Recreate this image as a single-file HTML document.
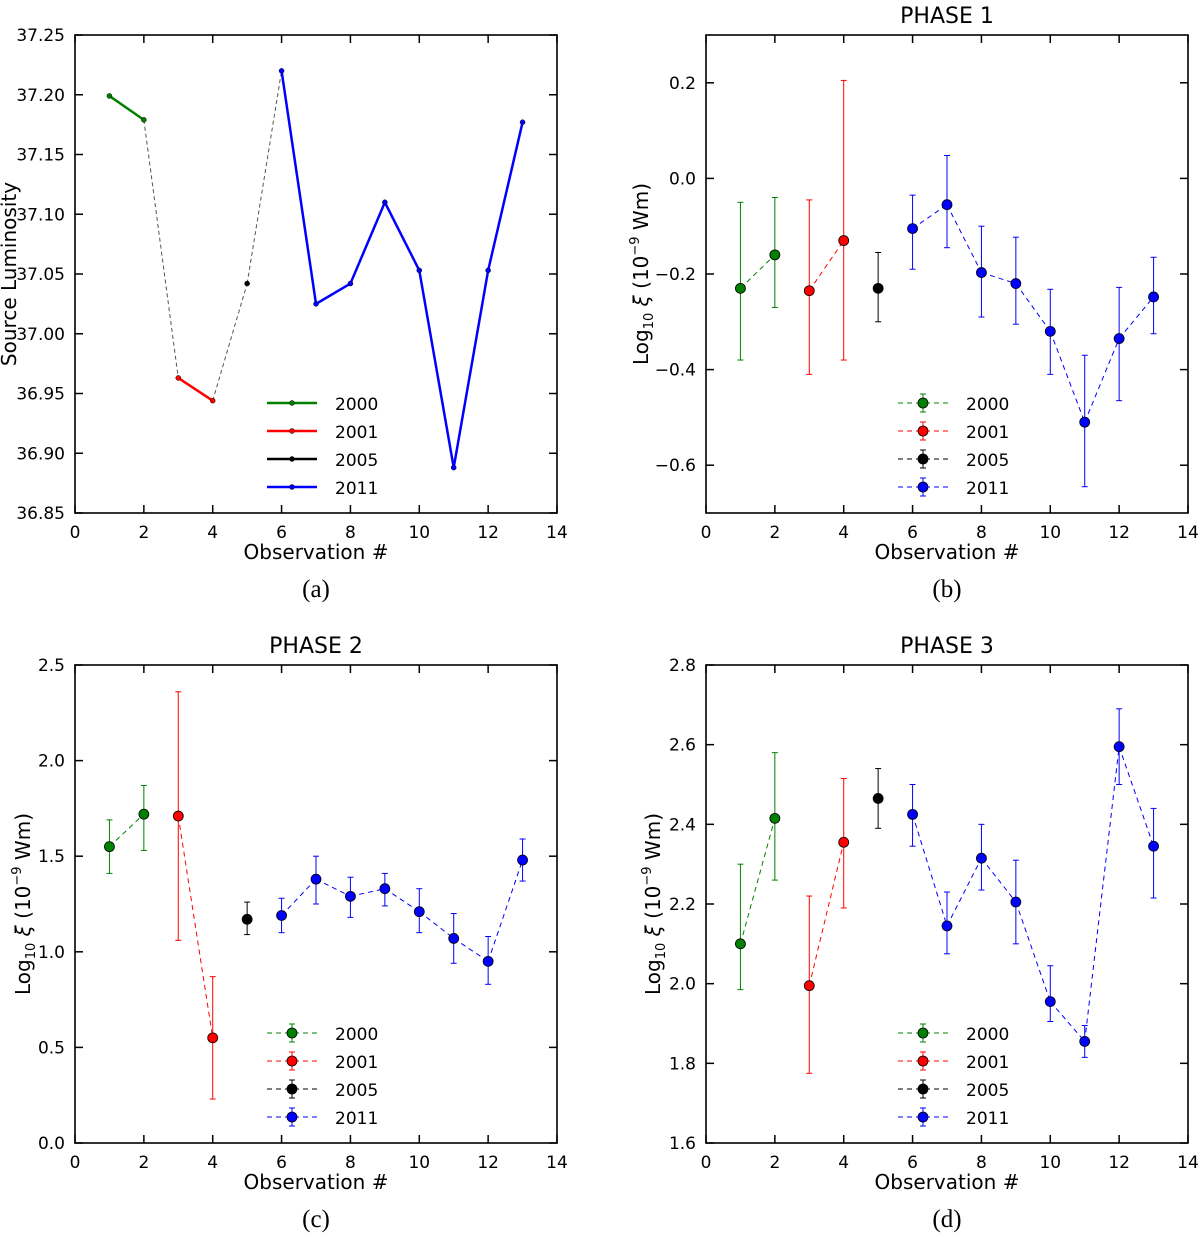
<!DOCTYPE html>
<html><head><meta charset="utf-8">
<style>
body{margin:0;background:#fff;width:1200px;height:1237px;overflow:hidden}
svg{display:block;font-family:"DejaVu Sans","Liberation Sans",sans-serif}
</style></head><body>
<svg id="fig" width="1200" height="1237" viewBox="0 0 1200 1237"></svg>
<script>
const obs=[1,2,3,4,5,6,7,8,9,10,11,12,13];
const groupOf=[0,0,1,1,2,3,3,3,3,3,3,3,3];
const years=["2000","2001","2005","2011"];
const colors=["#008000","#ff0000","#000000","#0000ff"];
const lumVals=[37.199,37.179,36.963,36.944,37.042,37.220,37.025,37.042,37.110,37.053,36.888,37.053,37.177];
const p1Vals=[-0.23,-0.16,-0.235,-0.13,-0.23,-0.105,-0.055,-0.197,-0.22,-0.32,-0.51,-0.335,-0.248];
const p1Lo=[-0.38,-0.27,-0.41,-0.38,-0.30,-0.19,-0.145,-0.29,-0.305,-0.41,-0.645,-0.465,-0.325];
const p1Hi=[-0.05,-0.04,-0.045,0.205,-0.155,-0.035,0.048,-0.10,-0.123,-0.232,-0.37,-0.228,-0.165];
const p2Vals=[1.55,1.72,1.71,0.55,1.17,1.19,1.38,1.29,1.33,1.21,1.07,0.95,1.48];
const p2Lo=[1.41,1.53,1.06,0.23,1.09,1.10,1.25,1.18,1.24,1.10,0.94,0.83,1.37];
const p2Hi=[1.69,1.87,2.36,0.87,1.26,1.28,1.50,1.39,1.41,1.33,1.20,1.08,1.59];
const p3Vals=[2.10,2.415,1.995,2.355,2.465,2.425,2.145,2.315,2.205,1.955,1.855,2.595,2.345];
const p3Lo=[1.985,2.26,1.775,2.19,2.39,2.345,2.075,2.235,2.10,1.905,1.815,2.50,2.215];
const p3Hi=[2.30,2.58,2.22,2.515,2.54,2.50,2.23,2.40,2.31,2.045,1.895,2.69,2.44];
const xTicks=[0,2,4,6,8,10,12,14];
const aTicks=["36.85","36.90","36.95","37.00","37.05","37.10","37.15","37.20","37.25"];
const bTicks=["-0.6","-0.4","-0.2","0.0","0.2"];
const cTicks=["0.0","0.5","1.0","1.5","2.0","2.5"];
const dTicks=["1.6","1.8","2.0","2.2","2.4","2.6","2.8"];

const NS="http://www.w3.org/2000/svg";
const svg=document.getElementById('fig');
function mk(tag,attrs,parent,text){const e=document.createElementNS(NS,tag);for(const k in attrs)e.setAttribute(k,attrs[k]);if(text!==undefined)e.textContent=text;(parent||svg).appendChild(e);return e;}

function panel(o){
  const g=mk('g',{});
  
  
  const L=o.x0,R=o.x0+482,T=o.y0,B=o.y0+478;
  const sx=v=>L+(v-0)/14*(R-L);
  const sy=v=>B-(v-o.ymin)/(o.ymax-o.ymin)*(B-T);
  // ticks & labels
  xTicks.forEach(t=>{
    const x=sx(t);
    mk('line',{x1:x,x2:x,y1:B,y2:B-8,stroke:'#000','stroke-width':1.5},g);
    mk('line',{x1:x,x2:x,y1:T,y2:T+8,stroke:'#000','stroke-width':1.5},g);
    const tl=mk('text',{x:x,y:B+25,'text-anchor':'middle','font-size':17},g,String(t));
    
    
  });
  o.ticks.forEach(s=>{
    const y=sy(parseFloat(s));
    mk('line',{x1:L,x2:L+8,y1:y,y2:y,stroke:'#000','stroke-width':1.5},g);
    mk('line',{x1:R,x2:R-8,y1:y,y2:y,stroke:'#000','stroke-width':1.5},g);
    const tl=mk('text',{x:L-10,y:y+6,'text-anchor':'end','font-size':17},g,s.replace('-','\u2212'));
    
    
  });
  // series
  const vals=o.vals;
  if(!o.err){
    // gray connectors
    for(let i=0;i<vals.length-1;i++){
      const sameG=groupOf[i]===groupOf[i+1];
      const ln=mk('line',{x1:sx(obs[i]),y1:sy(vals[i]),x2:sx(obs[i+1]),y2:sy(vals[i+1]),stroke:sameG?colors[groupOf[i]]:'#555','stroke-width':sameG?2.5:1,'stroke-dasharray':sameG?'':'4,3'},g);
      
      
    }
    vals.forEach((v,i)=>{
      const c=mk('circle',{cx:sx(obs[i]),cy:sy(v),r:2.5,fill:colors[groupOf[i]],stroke:'#000','stroke-width':0.5},g);
      
      
    });
  } else {
    for(let i=0;i<vals.length-1;i++){
      if(groupOf[i]!==groupOf[i+1])continue;
      const ln=mk('line',{x1:sx(obs[i]),y1:sy(vals[i]),x2:sx(obs[i+1]),y2:sy(vals[i+1]),stroke:colors[groupOf[i]],'stroke-width':1,'stroke-dasharray':'5,4'},g);
      
      
    }
    vals.forEach((v,i)=>{
      const x=sx(obs[i]),col=colors[groupOf[i]];
      const eb=mk('g',{},g);
      
      
      mk('line',{x1:x,x2:x,y1:sy(o.lo[i]),y2:sy(o.hi[i]),stroke:col,'stroke-width':1},eb);
      mk('line',{x1:x-3,x2:x+3,y1:sy(o.lo[i]),y2:sy(o.lo[i]),stroke:col,'stroke-width':1},eb);
      mk('line',{x1:x-3,x2:x+3,y1:sy(o.hi[i]),y2:sy(o.hi[i]),stroke:col,'stroke-width':1},eb);
      const c=mk('circle',{cx:x,cy:sy(v),r:5,fill:col,stroke:'#000','stroke-width':0.8},g);
      
      
    });
  }
  // frame
  const fr=mk('rect',{x:L,y:T,width:R-L,height:B-T,fill:'none',stroke:'#000','stroke-width':1.6},g);
  
  
  // legend
  const lg=mk('g',{},g);
  
  
  years.forEach((yr,k)=>{
    const y=T+368+k*28;
    const e=mk('g',{},lg);
    
    
    const lx=L+192;
    if(!o.err){
      mk('line',{x1:lx,x2:lx+50,y1:y,y2:y,stroke:colors[k],'stroke-width':2.5},e);
      mk('circle',{cx:lx+25,cy:y,r:2.5,fill:colors[k],stroke:'#000','stroke-width':0.5},e);
    } else {
      mk('line',{x1:lx,x2:lx+50,y1:y,y2:y,stroke:colors[k],'stroke-width':1,'stroke-dasharray':'5,4'},e);
      mk('line',{x1:lx+25,x2:lx+25,y1:y-9,y2:y+9,stroke:colors[k],'stroke-width':1},e);
      mk('line',{x1:lx+22,x2:lx+28,y1:y-9,y2:y-9,stroke:colors[k]},e);
      mk('line',{x1:lx+22,x2:lx+28,y1:y+9,y2:y+9,stroke:colors[k]},e);
      mk('circle',{cx:lx+25,cy:y,r:5,fill:colors[k],stroke:'#000','stroke-width':0.8},e);
    }
    mk('text',{x:lx+68,y:y+7,'font-size':17},e,yr);
  });
  // axis labels
  const xl=mk('text',{x:(L+R)/2,y:B+46,'text-anchor':'middle','font-size':20},g,'Observation #');
  
  
  const yx=o.ylx,yy=(T+B)/2;
  const yl=mk('text',{x:yx,y:yy,'text-anchor':'middle','font-size':20,transform:`rotate(-90 ${yx} ${yy})`},g);
  
  
  if(o.ylabel){yl.textContent=o.ylabel;}
  else{
    mk('tspan',{},yl,'Log');
    mk('tspan',{'font-size':13,dy:5},yl,'10');
    mk('tspan',{dy:-5,'font-style':'italic'},yl,' \u03BE');
    mk('tspan',{},yl,' (10');
    mk('tspan',{'font-size':13,dy:-9},yl,'\u22129');
    mk('tspan',{dy:9},yl,' Wm)');
  }
  if(o.title){
    const tt=mk('text',{x:(L+R)/2,y:T-12,'text-anchor':'middle','font-size':22},g,o.title);
    
    
  }
  const cap=mk('text',{x:(L+R)/2,y:B+84,'text-anchor':'middle','font-size':25,'font-family':'"Liberation Serif",serif'},g,o.cap);
  
  
}
panel({name:'panel-a-luminosity',x0:75,y0:35,ymin:36.85,ymax:37.25,ticks:aTicks,vals:lumVals,err:false,ylabel:'Source Luminosity',ylx:16,cap:'(a)'});
panel({name:'panel-b-phase1',x0:706,y0:35,ymin:-0.7,ymax:0.3,ticks:bTicks,vals:p1Vals,lo:p1Lo,hi:p1Hi,err:true,ylx:648,title:'PHASE 1',cap:'(b)'});
panel({name:'panel-c-phase2',x0:75,y0:665,ymin:0,ymax:2.5,ticks:cTicks,vals:p2Vals,lo:p2Lo,hi:p2Hi,err:true,ylx:30,title:'PHASE 2',cap:'(c)'});
panel({name:'panel-d-phase3',x0:706,y0:665,ymin:1.6,ymax:2.8,ticks:dTicks,vals:p3Vals,lo:p3Lo,hi:p3Hi,err:true,ylx:660,title:'PHASE 3',cap:'(d)'});
</script>
</body></html>
